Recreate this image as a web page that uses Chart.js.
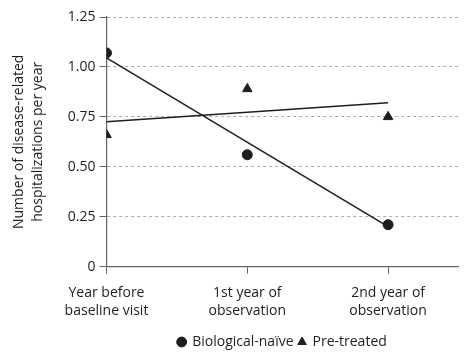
<!DOCTYPE html>
<html>
<head>
<meta charset="utf-8">
<script src="https://cdn.jsdelivr.net/npm/chart.js@4"></script>
<style>
  html, body { margin: 0; padding: 0; background: #fff; }
  #wrap { width: 465px; height: 355px; }
</style>
</head>
<body>
<div id="wrap"><canvas id="hospChart"></canvas></div>
<script>
// categories on the x axis (positions 0, 1, 2)
const categories = [["Year before", "baseline visit"], ["1st year of", "observation"], ["2nd year of", "observation"]];
const naiveValues = [1.07, 0.56, 0.21];
const pretreatedValues = [0.66, 0.89, 0.75];
// trend lines, end values
const naiveTrend = [1.045, 0.20];
const pretreatedTrend = [0.725, 0.82];
const yTicks = [0, 0.25, 0.5, 0.75, 1.0, 1.25];

const ink = "#1e1e1e";
const font = "'Open Sans', 'Noto Sans', sans-serif";
const fs = 14;

const toPoints = (vals) => vals.map((v, i) => ({ x: i, y: v }));
const trendPoints = (ends) => [{ x: 0, y: ends[0] }, { x: categories.length - 1, y: ends[1] }];

// shift the legend to sit under the plot area
const legendShift = {
  id: "legendShift",
  afterLayout(chart) {
    const lg = chart.legend;
    if (!lg) return;
    const dx = (chart.chartArea.left + chart.chartArea.right) / 2 - (lg.left + lg.right) / 2;
    lg.left += dx;
    lg.right += dx;
  }
};

const data = {
  datasets: [
    {
      label: "Biological-naïve",
      data: toPoints(naiveValues),
      showLine: false,
      pointStyle: "circle",
      pointRadius: 5,
      backgroundColor: ink,
      borderColor: ink,
    },
    {
      label: "Pre-treated",
      data: toPoints(pretreatedValues),
      showLine: false,
      pointStyle: "triangle",
      pointRadius: 5.5,
      backgroundColor: ink,
      borderColor: ink,
    },
    {
      label: "trend1",
      data: trendPoints(naiveTrend),
      showLine: true,
      pointRadius: 0,
      borderColor: ink,
      borderWidth: 1.5,
    },
    {
      label: "trend2",
      data: trendPoints(pretreatedTrend),
      showLine: true,
      pointRadius: 0,
      borderColor: ink,
      borderWidth: 1.5,
    },
  ],
};

const config = {
  type: "scatter",
  data: data,
  options: {
    responsive: true,
    maintainAspectRatio: false,
    animation: false,
    layout: { padding: { top: 17, right: 0, left: 10, bottom: -4 } },
    plugins: {
      tooltip: { enabled: false },
      legend: {
        position: "bottom",
        labels: {
          usePointStyle: true,
          boxWidth: 7,
          boxHeight: 7,
          padding: 5,
          color: ink,
          font: { family: font, size: fs },
          filter: (item) => item.datasetIndex < 2,
        },
      },
    },
    scales: {
      x: {
        type: "linear",
        min: 0,
        max: 2.5,
        afterBuildTicks: (axis) => {
          axis.ticks = categories.map((c, i) => ({ value: i }));
        },
        ticks: {
          color: ink,
          padding: 10,
          maxRotation: 0,
          font: { family: font, size: fs, lineHeight: 1.3 },
          callback: (v) => categories[v] || "",
        },
        grid: {
          drawOnChartArea: false,
          drawTicks: true,
          tickLength: 7,
          color: "#666",
        },
        border: { color: "#666", width: 1.2 },
      },
      y: {
        min: 0,
        max: 1.25,
        afterBuildTicks: (axis) => {
          axis.ticks = yTicks.map((v) => ({ value: v }));
        },
        ticks: {
          color: ink,
          padding: 4,
          font: { family: font, size: fs },
          callback: (v) => (v === 0 ? "0" : v.toFixed(2)),
        },
        grid: {
          color: "#aaa",
          lineWidth: 1,
          tickLength: 7,
          tickColor: "#666",
          tickBorderDash: [],
        },
        border: { color: "#666", width: 1.2, dash: [3, 3] },
        title: {
          display: true,
          text: ["Number of disease-related", "hospitalizations per year"],
          color: ink,
          padding: { top: 0, bottom: 16 },
          font: { family: font, size: fs, lineHeight: 1.35 },
        },
      },
    },
  },
  plugins: [legendShift],
};

const ctx = document.getElementById("hospChart").getContext("2d");
new Chart(ctx, config);
</script>
</body>
</html>
